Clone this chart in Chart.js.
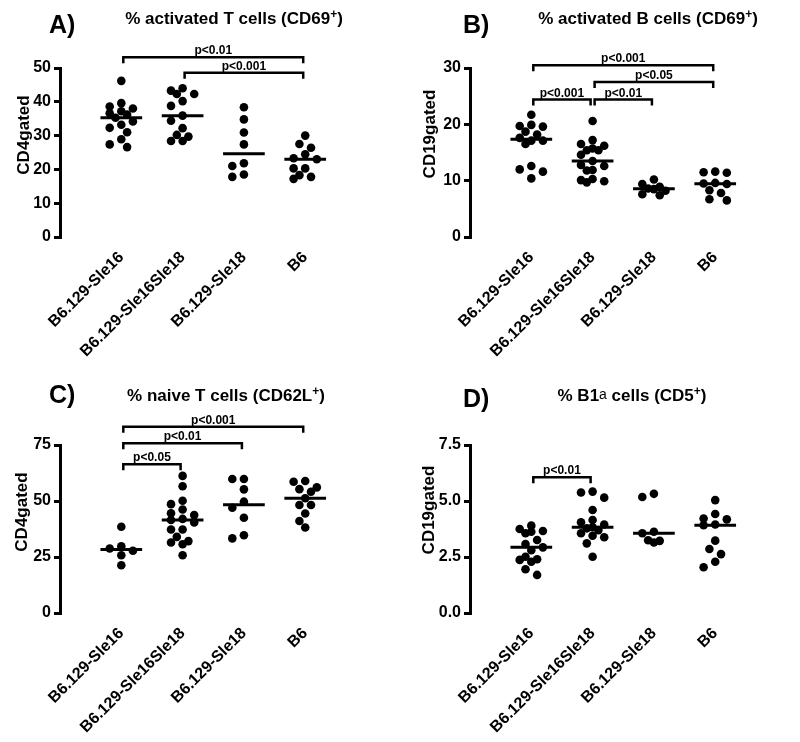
<!DOCTYPE html>
<html>
<head>
<meta charset="utf-8">
<script src="https://cdn.jsdelivr.net/npm/chart.js@4.4.0/dist/chart.umd.min.js"></script>
<style>
  body { margin: 0; background: #fff; }
  #wrap { position: relative; width: 800px; height: 742px; }
  .panel { position: absolute; width: 400px; height: 371px; }
</style>
</head>
<body>
<div id="wrap">
  <div class="panel" style="left:0;top:0"><canvas id="chartA"></canvas></div>
  <div class="panel" style="left:400px;top:0"><canvas id="chartB"></canvas></div>
  <div class="panel" style="left:0;top:371px"><canvas id="chartC"></canvas></div>
  <div class="panel" style="left:400px;top:371px"><canvas id="chartD"></canvas></div>
</div>
<script>
const FONT = 'Arial, "Liberation Sans", Helvetica, sans-serif';

// strains, same order in every panel
const groups = ['B6.129-Sle16', 'B6.129-Sle16Sle18', 'B6.129-Sle18', 'B6'];

// A) % activated T cells (CD69+), CD4 gated
const tCellsCD69 = [
    [46.2, 39.6, 38.6, 38.0, 37.2, 36.6, 36.2, 35.3, 34.2, 33.2, 32.3, 31.0, 28.9, 27.4, 26.6],
    [44.0, 43.3, 42.3, 42.3, 40.2, 38.8, 35.9, 34.4, 32.2, 30.2, 29.7, 28.4, 28.4],
    [38.4, 34.8, 30.9, 27.4, 21.8, 21.0, 18.5, 17.8],
    [30.0, 27.5, 26.4, 24.5, 23.3, 23.0, 20.3, 20.3, 18.3, 17.8, 17.2]
];
const yTicksA = [0, 10, 20, 30, 40, 50];
const sigA = [[1, 4, 'p<0.01', 53.2], [2, 4, 'p<0.001', 48.6]];

// B) % activated B cells (CD69+), CD19 gated
const bCellsCD69 = [
    [21.7, 19.9, 19.7, 19.6, 18.7, 18.2, 17.6, 17.1, 17.1, 16.5, 12.6, 12.0, 11.6, 10.4],
    [20.6, 17.2, 16.5, 16.2, 15.7, 15.4, 15.4, 14.6, 13.5, 12.8, 12.6, 11.9, 11.8, 10.3, 10.1, 9.9, 9.7],
    [10.2, 9.4, 8.9, 8.6, 8.5, 8.2, 7.6, 7.4],
    [11.6, 11.5, 11.4, 9.6, 9.5, 9.4, 8.3, 7.8, 6.7, 6.5]
];
const yTicksB = [0, 10, 20, 30];
const sigB = [[1, 4, 'p<0.001', 30.5], [2, 4, 'p<0.05', 27.5], [1, 2, 'p<0.001', 24.4], [2, 3, 'p<0.01', 24.4]];

// C) % naive T cells (CD62L+), CD4 gated
const tCellsCD62L = [
    [38.5, 29.8, 28.8, 27.8, 25.8, 21.3],
    [61.2, 56.6, 50.1, 48.6, 46.2, 44.5, 43.7, 42.0, 41.5, 40.4, 37.3, 37.3, 34.0, 32.1, 31.5, 30.7, 25.8],
    [59.8, 59.8, 55.2, 49.7, 47.0, 42.5, 34.7, 33.3],
    [58.9, 58.6, 56.1, 55.3, 54.1, 51.2, 48.2, 48.2, 44.4, 41.1, 38.2]
];
const yTicksC = [0, 25, 50, 75];
const sigC = [[1, 4, 'p<0.001', 83.2], [1, 3, 'p<0.01', 75.8], [1, 2, 'p<0.05', 66.4]];

// D) % B1a cells (CD5+), CD19 gated
const b1aCD5 = [
    [3.90, 3.75, 3.66, 3.63, 3.56, 3.26, 3.08, 2.93, 2.80, 2.51, 2.40, 2.37, 2.29, 1.95, 1.70],
    [5.42, 5.38, 5.15, 4.60, 4.15, 4.05, 3.95, 3.83, 3.78, 3.70, 3.56, 3.45, 3.38, 3.11, 2.51],
    [5.32, 5.18, 3.63, 3.56, 3.25, 3.22, 3.15],
    [5.04, 4.42, 4.22, 4.18, 3.95, 3.92, 3.23, 2.86, 2.63, 2.29, 2.04]
];
const yTicksD = [0, 2.5, 5, 7.5];
const sigD = [[1, 2, 'p<0.01', 6.06]];

function median(arr) {
    const s = [...arr].sort((a, b) => a - b);
    const m = Math.floor(s.length / 2);
    return s.length % 2 ? s[m] : (s[m - 1] + s[m]) / 2;
}

// dot plot layout: each dot goes to the free half-column nearest the centre,
// at most two half-columns either side; if all are taken, the least crowded one
function swarm(ysPx, step, d) {
    const order = ysPx.map((y, i) => i).sort((a, b) => ysPx[a] - ysPx[b]);
    const cols = [0, -step, step, -2 * step, 2 * step];
    const placed = [];
    const out = new Array(ysPx.length).fill(0);
    order.forEach(idx => {
        const y = ysPx[idx];
        const gap = c => Math.min(Infinity, ...placed.map(p => Math.hypot(p.x - c, p.y - y)));
        let x = cols.find(c => gap(c) >= d);
        if (x === undefined) x = cols.reduce((best, c) => (gap(c) > gap(best) + 0.5 ? c : best), cols[0]);
        out[idx] = x;
        placed.push({ x, y });
    });
    return out;
}

function drawTitle(ctx, segs, cx, cy) {
    const fonts = { n: `bold 17px ${FONT}`, sup: `bold 12px ${FONT}`, small: `14px ${FONT}` };
    const lift = { n: 0, sup: -6, small: -2 };
    let w = 0;
    segs.forEach(s => { ctx.font = fonts[s[1]]; w += ctx.measureText(s[0]).width; });
    let x = cx - w / 2;
    ctx.textAlign = 'left';
    ctx.textBaseline = 'alphabetic';
    segs.forEach(s => {
        ctx.font = fonts[s[1]];
        ctx.fillText(s[0], x, cy + 6 + lift[s[1]]);
        x += ctx.measureText(s[0]).width;
    });
}

function panelDecor(p) {
    return {
        id: 'decor',
        afterDraw(chart) {
            const ctx = chart.ctx;
            const xs = chart.scales.x, ys = chart.scales.y;
            ctx.save();
            ctx.fillStyle = '#000';
            ctx.strokeStyle = '#000';
            // panel letter
            ctx.font = `bold 25px ${FONT}`;
            ctx.textAlign = 'left';
            ctx.textBaseline = 'middle';
            ctx.fillText(p.letter, p.letterPos[0], p.letterPos[1]);
            // title
            drawTitle(ctx, p.title, p.titlePos[0], p.titlePos[1]);
            // y axis title
            ctx.save();
            ctx.translate(p.yTitlePos[0], p.yTitlePos[1]);
            ctx.rotate(-Math.PI / 2);
            ctx.font = `bold 17px ${FONT}`;
            ctx.textAlign = 'center';
            ctx.textBaseline = 'middle';
            ctx.fillText(p.yTitle, 0, 0);
            ctx.restore();
            // significance brackets
            ctx.lineWidth = 2.5;
            ctx.font = `bold 12px ${FONT}`;
            ctx.textAlign = 'center';
            ctx.textBaseline = 'alphabetic';
            p.sig.forEach(([a, b, label, yv]) => {
                const x1 = xs.getPixelForValue(a) + 2;
                const x2 = xs.getPixelForValue(b) - 2;
                const y = ys.getPixelForValue(yv);
                ctx.beginPath();
                ctx.moveTo(x1, y + 6);
                ctx.lineTo(x1, y);
                ctx.lineTo(x2, y);
                ctx.lineTo(x2, y + 6);
                ctx.stroke();
                ctx.fillText(label, (x1 + x2) / 2, y - 3);
            });
            ctx.restore();
        }
    };
}

function makePanel(id, p) {
    const datasets = [];
    p.values.forEach((vals, i) => {
        datasets.push({
            type: 'scatter',
            data: vals.map(v => ({ x: i + 1, y: v })),
            pointRadius: 4.3,
            pointHoverRadius: 4.3,
            pointBackgroundColor: '#000',
            pointBorderWidth: 0
        });
        const m = median(vals);
        datasets.push({
            type: 'line',
            data: [{ x: i + 1 - 0.34, y: m }, { x: i + 1 + 0.34, y: m }],
            borderColor: '#000',
            borderWidth: 3,
            pointRadius: 0,
            fill: false
        });
    });

    const chart = new Chart(document.getElementById(id), {
        type: 'scatter',
        data: { datasets },
        options: {
            responsive: true,
            maintainAspectRatio: false,
            animation: false,
            layout: { padding: { top: p.padTop, right: p.padRight, left: 0, bottom: 0 } },
            plugins: { legend: { display: false }, tooltip: { enabled: false } },
            scales: {
                x: {
                    type: 'linear',
                    min: 0,
                    max: 4.6,
                    afterBuildTicks: a => { a.ticks = groups.map((g, i) => ({ value: i + 1 })); },
                    afterFit: a => { a.height = p.xAxisH; },
                    grid: { display: false },
                    border: { display: false },
                    ticks: {
                        autoSkip: false,
                        minRotation: 45,
                        maxRotation: 45,
                        color: '#000',
                        font: { family: FONT, size: 16, weight: 'bold' },
                        callback: v => groups[v - 1]
                    }
                },
                y: {
                    min: p.yTicks[0],
                    max: p.yTicks[p.yTicks.length - 1],
                    afterBuildTicks: a => { a.ticks = p.yTicks.map(v => ({ value: v })); },
                    afterFit: a => { a.width = p.yAxisW; },
                    grid: { drawOnChartArea: false, drawTicks: true, tickLength: 6, lineWidth: 3, color: '#000' },
                    border: { display: true, width: 3, color: '#000' },
                    ticks: {
                        padding: 3,
                        color: '#000',
                        font: { family: FONT, size: 16, weight: 'bold' },
                        callback: v => v.toFixed(p.decimals)
                    }
                }
            }
        },
        plugins: [panelDecor(p)]
    });

    // spread dots sideways like a dot plot
    const xs = chart.scales.x, ys = chart.scales.y;
    const pxX = xs.getPixelForValue(1) - xs.getPixelForValue(0);
    const pxY = ys.getPixelForValue(0) - ys.getPixelForValue(1);
    p.values.forEach((vals, i) => {
        const offs = swarm(vals.map(v => -v * pxY), 5.8, 8.6);
        chart.data.datasets[i * 2].data = vals.map((v, k) => ({ x: i + 1 + offs[k] / pxX, y: v }));
    });
    chart.update('none');
}

makePanel('chartA', {
    values: tCellsCD69, yTicks: yTicksA, decimals: 0, sig: sigA,
    letter: 'A)', letterPos: [49, 26],
    title: [['% activated T cells (CD69', 'n'], ['+', 'sup'], [')', 'n']], titlePos: [234, 18],
    yTitle: 'CD4gated', yTitlePos: [24, 135],
    padTop: 68, padRight: 58, xAxisH: 134, yAxisW: 60
});
makePanel('chartB', {
    values: bCellsCD69, yTicks: yTicksB, decimals: 0, sig: sigB,
    letter: 'B)', letterPos: [63, 26],
    title: [['% activated B cells (CD69', 'n'], ['+', 'sup'], [')', 'n']], titlePos: [248, 18],
    yTitle: 'CD19gated', yTitlePos: [30, 134],
    padTop: 68, padRight: 48, xAxisH: 134, yAxisW: 70
});
makePanel('chartC', {
    values: tCellsCD62L, yTicks: yTicksC, decimals: 0, sig: sigC,
    letter: 'C)', letterPos: [49, 25],
    title: [['% naive T cells (CD62L', 'n'], ['+', 'sup'], [')', 'n']], titlePos: [226, 24],
    yTitle: 'CD4gated', yTitlePos: [22, 141],
    padTop: 74, padRight: 58, xAxisH: 129, yAxisW: 60
});
makePanel('chartD', {
    values: b1aCD5, yTicks: yTicksD, decimals: 1, sig: sigD,
    letter: 'D)', letterPos: [63, 29],
    title: [['% B1', 'n'], ['a', 'small'], [' cells (CD5', 'n'], ['+', 'sup'], [')', 'n']], titlePos: [232, 24],
    yTitle: 'CD19gated', yTitlePos: [29, 139],
    padTop: 74, padRight: 48, xAxisH: 129, yAxisW: 70
});
</script>
</body>
</html>
